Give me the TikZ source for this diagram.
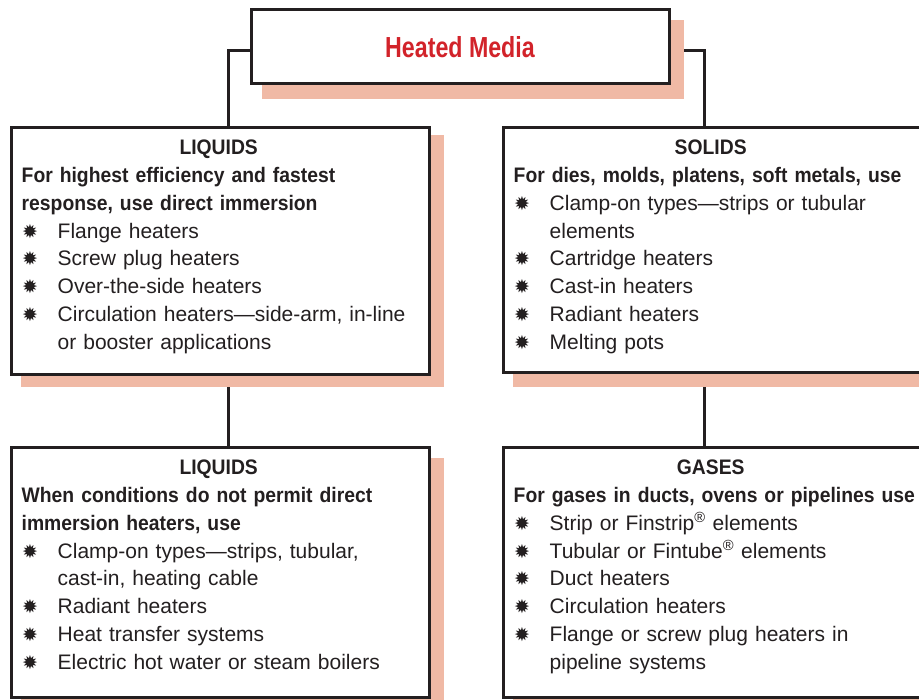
\documentclass[tikz,border=0pt]{standalone}
\usepackage{fontspec}
\setmainfont{Liberation Sans}[BoldFeatures={FakeStretch=0.92}]
\newfontfamily\titlefont{Liberation Sans}[FakeStretch=0.8]
\newfontfamily\symfont{DejaVu Sans}
\definecolor{inkc}{HTML}{231F20}
\definecolor{shadc}{HTML}{F0B9A5}
\definecolor{redc}{HTML}{D2232A}
\newcommand\bulsym{\raisebox{0pt}{\symfont\fontsize{19}{19}\selectfont ✹}}
\newcommand\lnT[1]{\noindent\makebox[\linewidth]{\bfseries #1}}
\newcommand\lnH[1]{\par\noindent\mbox{\bfseries #1}}
\newcommand\lnB[1]{\par\noindent\makebox[36pt][l]{\hspace{0.5pt}\bulsym}\mbox{#1}}
\newcommand\lnC[1]{\par\noindent\hspace*{36pt}\mbox{#1}}
\pgfdeclarelayer{connlayer}
\pgfdeclarelayer{shadlayer}
\pgfsetlayers{connlayer,shadlayer,main}
\begin{document}
\begin{tikzpicture}[x=1pt,y=-1pt,
  box/.style={draw=inkc, line width=3pt, fill=white, rectangle, inner sep=0pt, minimum width=418pt},
  txt/.style={text width=394pt, inner sep=0pt, anchor=base west, text=inkc, align=left,
              font=\fontsize{21}{27.85}\selectfont},
  conn/.style={draw=inkc, line width=3pt},
  shad/.style={fill=shadc}]
\useasboundingbox (0,0) rectangle (919,700);
\clip (0,0) rectangle (919,700);

\node[box, minimum height=74pt] (title) at (460,47)
  {\titlefont\bfseries\fontsize{29}{30}\selectfont\color{redc}Heated Media};
\node[box, minimum height=247pt] (tl) at (220,251.5) {};
\node[box, minimum height=245pt] (tr) at (712,250.5) {};
\node[box, minimum height=249pt] (bl) at (220,572.5) {};
\node[box, minimum height=249pt] (br) at (712,572.5) {};

\node[txt] (tltext) at ([shift={(12,28)}]tl.north west) {\lnT{LIQUIDS}
\lnH{For highest efficiency and fastest}
\lnH{response, use direct immersion}
\lnB{Flange heaters}
\lnB{Screw plug heaters}
\lnB{Over-the-side heaters}
\lnB{Circulation heaters—side-arm, in-line}
\lnC{or booster applications}};

\node[txt] (trtext) at ([shift={(12,28)}]tr.north west) {\lnT{SOLIDS}
\lnH{For dies, molds, platens, soft metals, use}
\lnB{Clamp-on types—strips or tubular}
\lnC{elements}
\lnB{Cartridge heaters}
\lnB{Cast-in heaters}
\lnB{Radiant heaters}
\lnB{Melting pots}};

\node[txt] (bltext) at ([shift={(12,28)}]bl.north west) {\lnT{LIQUIDS}
\lnH{When conditions do not permit direct}
\lnH{immersion heaters, use}
\lnB{Clamp-on types—strips, tubular,}
\lnC{cast-in, heating cable}
\lnB{Radiant heaters}
\lnB{Heat transfer systems}
\lnB{Electric hot water or steam boilers}};

\node[txt] (brtext) at ([shift={(12,28)}]br.north west) {\lnT{GASES}
\lnH{For gases in ducts, ovens or pipelines use}
\lnB{Strip or Finstrip\textsuperscript{®} elements}
\lnB{Tubular or Fintube\textsuperscript{®} elements}
\lnB{Duct heaters}
\lnB{Circulation heaters}
\lnB{Flange or screw plug heaters in}
\lnC{pipeline systems}};

\begin{pgfonlayer}{shadlayer}
\fill[shad] ([shift={(12,12)}]title.north west) rectangle ([shift={(13,14)}]title.south east);
\fill[shad] ([shift={(11,9)}]tl.north west) rectangle ([shift={(13,11)}]tl.south east);
\fill[shad] ([shift={(11,9)}]tr.north west) rectangle ([shift={(13,13)}]tr.south east);
\fill[shad] ([shift={(11,12)}]bl.north west) rectangle ([shift={(13,12)}]bl.south east);
\fill[shad] ([shift={(11,12)}]br.north west) rectangle ([shift={(13,12)}]br.south east);
\end{pgfonlayer}

\begin{pgfonlayer}{connlayer}
\draw[conn] ([shift={(0,4)}]title.west) -| ([shift={(8,0)}]tl.north);
\draw[conn] ([shift={(0,4)}]title.east) -| ([shift={(-8,0)}]tr.north);
\draw[conn] ([shift={(8,0)}]tl.south) -- ([shift={(8,0)}]bl.north);
\draw[conn] ([shift={(-8,0)}]tr.south) -- ([shift={(-8,0)}]br.north);
\end{pgfonlayer}
\end{tikzpicture}
\end{document}
